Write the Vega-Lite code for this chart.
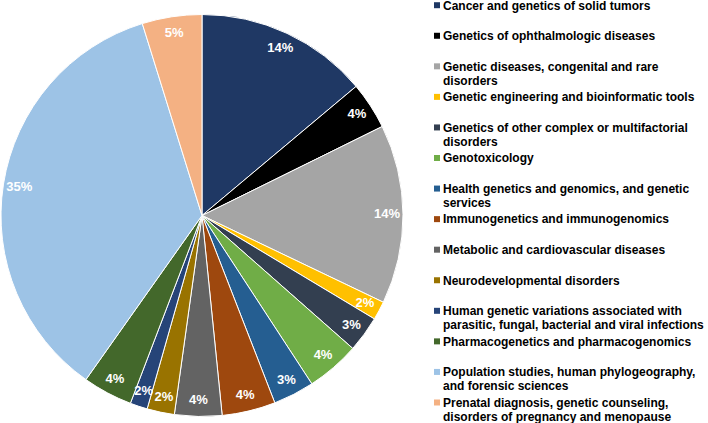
{
  "$schema": "https://vega.github.io/schema/vega-lite/v6.json",
  "width": 404,
  "height": 415,
  "autosize": {"type": "none"},
  "padding": {"left": 0, "top": 8, "right": 304, "bottom": 0},
  "background": "white",
  "data": {
    "values": [
      {"row": 0, "category": "Cancer and genetics of solid tumors", "value": 13.9, "label": "14%"},
      {"row": 1, "category": "Genetics of ophthalmologic diseases", "value": 3.8, "label": "4%"},
      {"row": 2, "category": "Genetic diseases, congenital and rare|disorders", "value": 14.4, "label": "14%"},
      {"row": 3, "category": "Genetic engineering and bioinformatic tools", "value": 1.5, "label": "2%"},
      {"row": 4, "category": "Genetics of other complex or multifactorial|disorders", "value": 2.9, "label": "3%"},
      {"row": 5, "category": "Genotoxicology", "value": 4.3, "label": "4%"},
      {"row": 6, "category": "Health genetics and genomics, and genetic|services", "value": 3.3, "label": "3%"},
      {"row": 7, "category": "Immunogenetics and immunogenomics", "value": 4.3, "label": "4%"},
      {"row": 8, "category": "Metabolic and cardiovascular diseases", "value": 3.8, "label": "4%"},
      {"row": 9, "category": "Neurodevelopmental disorders", "value": 2.2, "label": "2%"},
      {"row": 10, "category": "Human genetic variations associated with|parasitic, fungal, bacterial and viral infections", "value": 1.4, "label": "2%"},
      {"row": 11, "category": "Pharmacogenetics and pharmacogenomics", "value": 4.0, "label": "4%"},
      {"row": 12, "category": "Population studies, human phylogeography,|and forensic sciences", "value": 35.4, "label": "35%"},
      {"row": 13, "category": "Prenatal diagnosis, genetic counseling,|disorders of pregnancy and menopause", "value": 4.8, "label": "5%"}
    ]
  },
  "encoding": {
    "theta": {"field": "value", "type": "quantitative", "stack": true},
    "order": {"field": "row", "type": "quantitative"}
  },
  "layer": [
    {
      "mark": {"type": "arc", "outerRadius": 201, "stroke": "white", "strokeWidth": 1},
      "encoding": {
        "color": {
          "field": "category",
          "type": "nominal",
          "sort": null,
          "scale": {"range": ["#1f3864", "#000000", "#a5a5a5", "#ffc000", "#333f50", "#70ad47", "#255e91", "#9e480e", "#636363", "#997300", "#264478", "#43682b", "#9dc3e6", "#f4b183"]},
          "legend": {
            "title": null,
            "orient": "none",
            "legendX": 431,
            "legendY": -4.5,
            "direction": "vertical",
            "symbolType": "M-1,-2.43H1V-0.43H-1Z",
            "symbolSize": 36,
            "symbolStrokeWidth": 0,
            "labelFont": "Liberation Sans",
            "labelFontWeight": "bold",
            "labelFontSize": 12,
            "labelColor": "black",
            "labelLimit": 400,
            "labelBaseline": "alphabetic",
            "labelOffset": 0,
            "labelExpr": "split(datum.label, '|')",
            "rowPadding": 4.56,
            "gridAlign": "all",
            "padding": 0
          }
        }
      }
    },
    {
      "mark": {"type": "text", "radius": 185, "font": "Liberation Sans", "fontWeight": "bold", "fontSize": 13},
      "encoding": {
        "text": {"field": "label", "type": "nominal"},
        "color": {"value": "white"}
      }
    }
  ],
  "config": {"view": {"stroke": null}}
}
